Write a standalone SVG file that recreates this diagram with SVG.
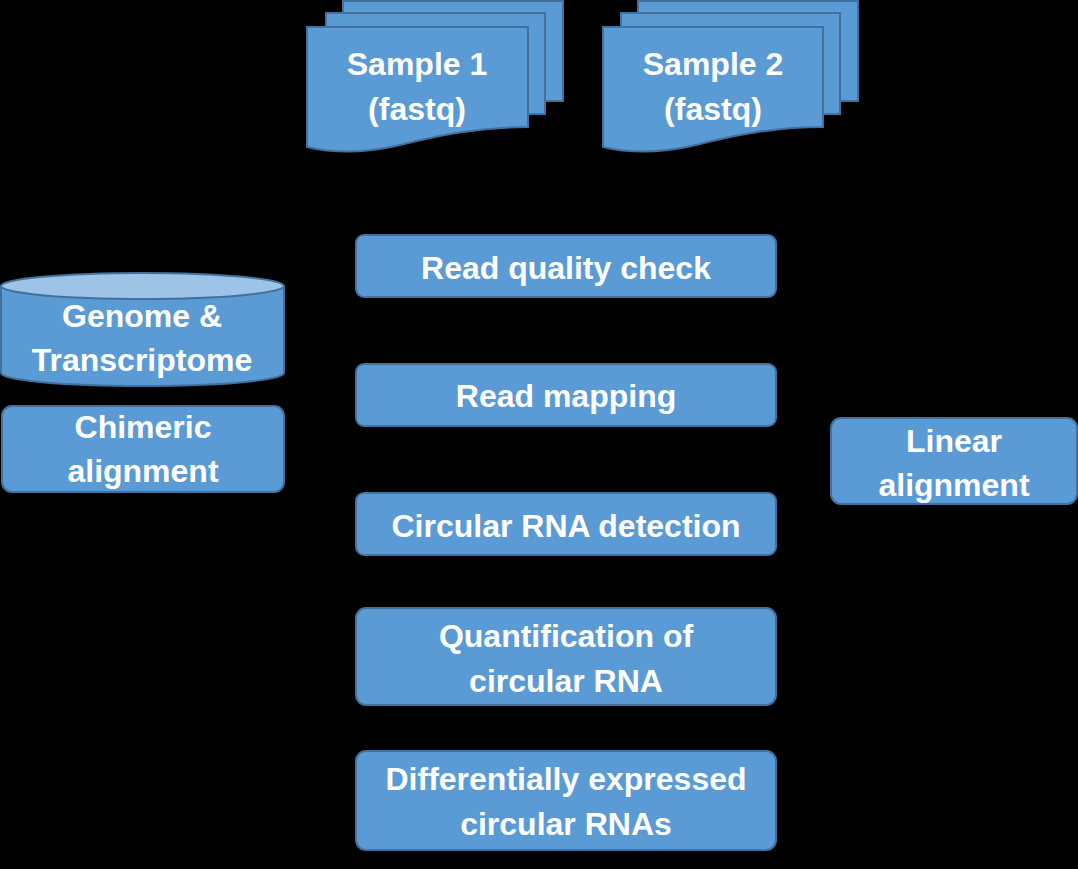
<svg xmlns="http://www.w3.org/2000/svg" width="1078" height="869" viewBox="0 0 1078 869">
<defs>
<style>
.n{fill:#5B9BD5;stroke:#41719C;stroke-width:2}
.top{fill:#9DC3E6;stroke:#41719C;stroke-width:2}
.t{font-family:"Liberation Sans",Arial,sans-serif;font-weight:bold;font-size:32px;fill:#ffffff;text-anchor:middle}
.c{fill:none;stroke:#000000;stroke-width:2}
</style>
<marker id="ah" markerWidth="10" markerHeight="10" refX="9" refY="5" orient="auto" markerUnits="userSpaceOnUse">
<path d="M0,0 L10,5 L0,10 Z" fill="#000000"/>
</marker>
</defs>
<rect x="0" y="0" width="1078" height="869" fill="#000000"/>

<g id="connectors">
<path class="c" d="M566,210 V232" marker-end="url(#ah)"/>
<path class="c" d="M566,299 V361" marker-end="url(#ah)"/>
<path class="c" d="M566,428 V491" marker-end="url(#ah)"/>
<path class="c" d="M566,557 V606" marker-end="url(#ah)"/>
<path class="c" d="M566,707 V749" marker-end="url(#ah)"/>
</g>

<g id="sample1">
<path class="n" d="M343,1 H563 V101 H545 V13 H343 Z"/>
<path class="n" d="M326,13 H545 V114 H528 V27 H326 Z"/>
<path class="n" d="M307,27 H528 V127 C480,127 440,135 400,145 C370,152 340,155 307,147 Z"/>
<text class="t" x="417" y="75">Sample 1</text>
<text class="t" x="417" y="120">(fastq)</text>
</g>

<g id="sample2">
<path class="n" d="M638,1 H858 V101 H840 V13 H638 Z"/>
<path class="n" d="M621,13 H840 V114 H823 V27 H621 Z"/>
<path class="n" d="M603,27 H823 V127 C775,127 735,135 696,145 C666,152 636,155 603,147 Z"/>
<text class="t" x="713" y="75">Sample 2</text>
<text class="t" x="713" y="120">(fastq)</text>
</g>

<g id="quality">
<rect class="n" x="356" y="235" width="420" height="62" rx="8"/>
<text class="t" x="566" y="279">Read quality check</text>
</g>

<g id="mapping">
<rect class="n" x="356" y="364" width="420" height="62" rx="8"/>
<text class="t" x="566" y="407">Read mapping</text>
</g>

<g id="detection">
<rect class="n" x="356" y="493" width="420" height="62" rx="8"/>
<text class="t" x="566" y="537">Circular RNA detection</text>
</g>

<g id="quantification">
<rect class="n" x="356" y="608" width="420" height="97" rx="10"/>
<text class="t" x="566" y="647">Quantification of</text>
<text class="t" x="566" y="692">circular RNA</text>
</g>

<g id="differential">
<rect class="n" x="356" y="751" width="420" height="99" rx="10"/>
<text class="t" x="566" y="790">Differentially expressed</text>
<text class="t" x="566" y="835">circular RNAs</text>
</g>

<g id="genome">
<path class="n" d="M1,286 V373 A141.5,13 0 0 0 284,373 V286 Z"/>
<ellipse class="top" cx="142.5" cy="286" rx="141.5" ry="13"/>
<text class="t" x="142" y="327">Genome &amp;</text>
<text class="t" x="142" y="371">Transcriptome</text>
</g>

<g id="chimeric">
<rect class="n" x="2" y="406" width="282" height="86" rx="10"/>
<text class="t" x="143" y="438">Chimeric</text>
<text class="t" x="143" y="482">alignment</text>
</g>

<g id="linear">
<rect class="n" x="831" y="418" width="246" height="86" rx="10"/>
<text class="t" x="954" y="452">Linear</text>
<text class="t" x="954" y="496">alignment</text>
</g>
</svg>
